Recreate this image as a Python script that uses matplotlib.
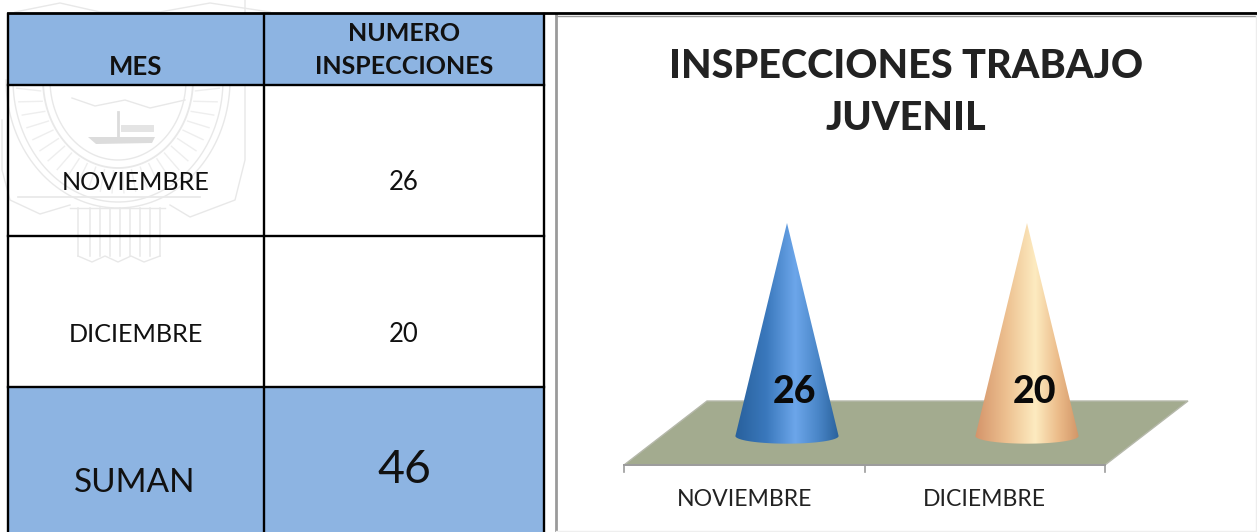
import numpy as np
import matplotlib
matplotlib.use('Agg')
import matplotlib.pyplot as plt
from matplotlib.patches import Polygon, Rectangle, PathPatch
from matplotlib.path import Path

ANCHO, ALTO = 1257, 532

meses = ['NOVIEMBRE', 'DICIEMBRE']
inspecciones = [26, 20]
total = 46
encabezados = ['MES', 'NUMERO\nINSPECCIONES']
titulo = 'INSPECCIONES TRABAJO\nJUVENIL'
# los dos conos salen con la misma altura en la imagen (100 %)
altura_cono = [100, 100]

plt.rcParams['font.family'] = ['Lato', 'DejaVu Sans']
NEGRO = '#000000'
AZUL = '#8db4e2'
TEXTO = '#111111'

fig = plt.figure(figsize=(ANCHO / 100, ALTO / 100), dpi=100)
ax = fig.add_axes([0, 0, 1, 1])
ax.set_xlim(0, ANCHO)
ax.set_ylim(ALTO, 0)
ax.axis('off')

# escudo de fondo, muy claro
GRIS = '#e8e8e8'
cx = 118
t = np.linspace(0, np.pi, 80)
for rx, ry, lw in [(75, 88, 1.3), (68, 80, 1.0), (105, 122, 1.0), (112, 128, 1.0)]:
    ax.plot(cx + rx * np.cos(t), 80 + ry * np.sin(t), color=GRIS, lw=lw, zorder=1)
# rayado de la banda del escudo
for a in np.linspace(0.12, np.pi - 0.12, 26):
    ax.plot([cx + 78 * np.cos(a), cx + 102 * np.cos(a)], [80 + 91 * np.sin(a), 80 + 119 * np.sin(a) - 6],
            color='#eeeeee', lw=1.0, zorder=1)
# barco
ax.add_patch(Polygon([[88, 137], [155, 137], [152, 143], [96, 144]], color='#dcdcdc', lw=0, zorder=1))
ax.plot([118, 118], [112, 138], color='#dcdcdc', lw=2, zorder=1)
ax.plot([124, 150], [128, 128], color='#e4e4e4', lw=5, zorder=1)
ax.plot([72, 95, 125, 150, 185], [98, 106, 100, 108, 100], color=GRIS, lw=1, zorder=1)
# lanza y haz de abajo
ax.plot([18, 200], [197, 197], color=GRIS, lw=1.2, zorder=1)
ax.plot([70, 165], [208, 208], color=GRIS, lw=1, zorder=1)
for x in [78, 90, 100, 110, 120, 130, 140, 150, 160]:
    ax.plot([x, x], [208, 256], color=GRIS, lw=1.1, zorder=1)
ax.plot([78, 92, 105, 118, 131, 144, 160], [256, 262, 256, 262, 256, 262, 256], color=GRIS, lw=1, zorder=1)
ax.plot([245, 245, 235, 190, 170], [0, 160, 200, 217, 205], color=GRIS, lw=1, zorder=1)
ax.plot([2, 2, 10, 40, 70], [120, 170, 200, 214, 205], color=GRIS, lw=1, zorder=1)
ax.plot([15, 60, 100, 160, 210, 270], [12, 3, 12, 12, 3, 12], color=GRIS, lw=1, zorder=1)

# tabla
col_x = [8, 264, 544]
fil_y = [14, 85, 236, 387, 533]
ax.add_patch(Rectangle((col_x[0], fil_y[0]), col_x[2] - col_x[0], fil_y[1] - fil_y[0], color=AZUL, lw=0, zorder=3))
ax.add_patch(Rectangle((col_x[0], fil_y[3]), col_x[2] - col_x[0], fil_y[4] - fil_y[3], color=AZUL, lw=0, zorder=3))
for x in col_x:
    ax.plot([x, x], [fil_y[0], fil_y[-1]], color=NEGRO, lw=1.7, solid_capstyle='projecting', zorder=4)
for y in fil_y[1:-1]:
    ax.plot([col_x[0], col_x[2]], [y, y], color=NEGRO, lw=1.7, solid_capstyle='projecting', zorder=4)
# la raya negra de arriba sigue por encima del grafico
ax.plot([8, ANCHO], [13, 13], color=NEGRO, lw=2.0, zorder=4)

ax.text(136, 67, encabezados[0], ha='center', va='center', fontsize=18.5, fontweight='bold', color=TEXTO, zorder=5)
ax.text(404, 50, encabezados[1], ha='center', va='center', fontsize=18, fontweight='bold',
        color=TEXTO, linespacing=1.55, zorder=5)
for i in range(2):
    yc = [183, 334][i]
    ax.text(136, yc, meses[i], ha='center', va='center', fontsize=18.2, color=TEXTO, zorder=5)
    ax.text(404, yc, str(inspecciones[i]), ha='center', va='center', fontsize=18.5, color=TEXTO, zorder=5)
ax.text(135, 483, 'SUMAN', ha='center', va='center', fontsize=24, color=TEXTO, zorder=5)
ax.text(404, 470, str(total), ha='center', va='center', fontsize=33.5, color=TEXTO, zorder=5)

# marco del grafico
ax.plot([556, ANCHO], [15.5, 15.5], color='#9a9a9a', lw=1.0, zorder=3)
ax.plot([555.5, 555.5], [15, 532], color='#9a9a9a', lw=2, zorder=3)
ax.plot([1255.5, 1255.5], [16, 532], color='#ededed', lw=1, zorder=3)
ax.plot([556, ANCHO], [530.5, 530.5], color='#efefef', lw=1, zorder=3)

# eje del grafico: categoria 0 en 787 px, categoria 1 en 1027 px; 0 en 436 px, 100 en 223 px
px_cat = 240.0
px_val = 2.13
izq, der, arr, aba = 558, 1254, 17, 529
ax2 = fig.add_axes([izq / ANCHO, 1 - aba / ALTO, (der - izq) / ANCHO, (aba - arr) / ALTO])
ax2.axis('off')
ax2.patch.set_alpha(0)


def X(p):
    return (p - 787) / px_cat


def Y(p):
    return (436 - p) / px_val


# piso en perspectiva
piso = [[X(624), Y(465)], [X(1105), Y(465)], [X(1188), Y(401)], [X(707), Y(401)]]
ax2.add_patch(Polygon(piso, facecolor='#a3ab8f', edgecolor='#b5b8aa', lw=1, zorder=1))
ax2.plot([X(624), X(1105)], [Y(465), Y(465)], color='#9c9c9c', lw=1.4, zorder=2)
for p in [624, 865, 1105]:
    ax2.plot([X(p), X(p)], [Y(465), Y(472)], color='#9c9c9c', lw=1.2, zorder=2)

colores = [['#28609c', '#3a78bc', '#6ca6ea', '#4a86c8', '#2a629c'],
           ['#d4946a', '#edc090', '#fdebc0', '#ecbc8a', '#d29668']]
pos_color = [0, 0.3, 0.58, 0.8, 1]
radio = 0.215
for i in range(2):
    grad = np.zeros((2, 256, 3))
    for c in range(3):
        tono = [matplotlib.colors.to_rgb(k)[c] for k in colores[i]]
        grad[:, :, c] = np.interp(np.linspace(0, 1, 256), pos_color, tono)
    im = ax2.imshow(grad, extent=[i - radio, i + radio, -6, altura_cono[i]], aspect='auto', zorder=3,
                    interpolation='bilinear')
    # silueta: punta arriba, base eliptica abajo
    ang = np.linspace(np.pi, 2 * np.pi, 40)
    bx = i + radio * np.cos(ang)
    by = 3.6 * np.sin(ang)
    verts = [(i, altura_cono[i])] + list(zip(bx, by)) + [(i, altura_cono[i])]
    codes = [Path.MOVETO] + [Path.LINETO] * (len(verts) - 2) + [Path.CLOSEPOLY]
    sil = PathPatch(Path(verts, codes), transform=ax2.transData, facecolor='none', edgecolor='none')
    ax2.add_patch(sil)
    im.set_clip_path(sil)
    ax2.text(i + 0.03, Y(392), str(inspecciones[i]), ha='center', va='center', fontsize=27,
             fontweight=900, color='#0a0a0a', zorder=5)
    ax2.text(X([745, 984][i]), Y(500), meses[i], ha='center', va='center', fontsize=16.6,
             color='#222222', zorder=5)

ax2.set_xlim((izq - 787) / px_cat, (der - 787) / px_cat)
ax2.set_ylim((436 - aba) / px_val, (436 - arr) / px_val)

ax.text(906, 93, titulo, ha='center', va='center', fontsize=28.5, fontweight=900, color='#222222',
        linespacing=1.5, zorder=5)

fig.savefig('out.png', dpi=100)
